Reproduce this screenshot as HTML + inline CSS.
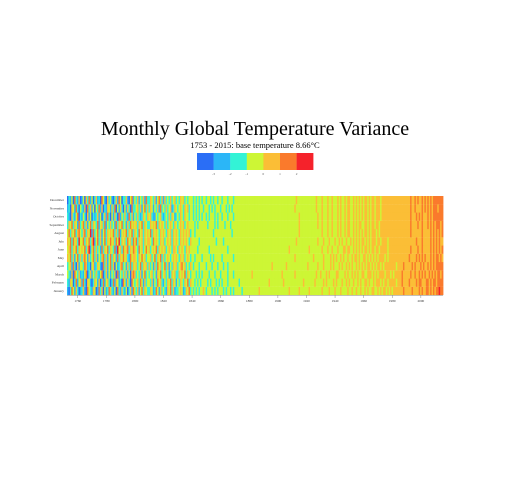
<!DOCTYPE html>
<html><head><meta charset="utf-8"><style>
body{margin:0;background:#fff;width:511px;height:488px;overflow:hidden;font-family:"Liberation Serif",serif}
</style></head><body>
<svg id="chart" width="511" height="488" xmlns="http://www.w3.org/2000/svg">
<text x="255" y="135" text-anchor="middle" font-size="20" font-family="Liberation Serif, serif">Monthly Global Temperature Variance</text>
<text x="255" y="148" text-anchor="middle" font-size="8.5" font-family="Liberation Serif, serif">1753 - 2015: base temperature 8.66°C</text>
<g id="legend"></g>
<g id="cells"></g>
<g id="yaxis"></g>
<g id="xaxis"></g>
</svg>
<script>
const months=["January","February","March","April","May","June","July","August","September","October","November","December"];
const legendLabels=["-3","-2","-1","0","1","2"];
const xTicks=[1760,1780,1800,1820,1840,1860,1880,1900,1920,1940,1960,1980,2000];
const startYear=1753;
const yearCount=263;
// level index per year (0=coldest .. 6=warmest), one string per month
const rowJan=["1025314201","2410532143","0152403125","4213052142","1302415","3241352432","2431253142","3214352412","2343124352","3232323343","2333232323","3323233232","3333323333","3333333433","3333333333","3333333343","3333343333","3343333333","3433334333","4333433334","3343343343","3434334433","4343443434","3444444454","4444544445","4544554545","455655"].join("");
const rowFeb=["2143025134","1520431024","3140251342","0251431205","3142053","2342531423","3241325342","1324352431","3243243524","3323232333","3232333232","3233323333","3332333333","3333333333","3333433333","3333433333","3333333343","3333334333","3343433334","3433343343","4334334343","3443433434","4434344344","4443444544","4454444545","5444554545","545555"].join("");
const rowMar=["3214053241","2135024132","4213502413","1324051324","2413045","4232413523","2342314352","3423124342","2434352432","3332323233","3323332333","2333323332","3333333333","3343333333","3333333333","3334333333","3343333333","3333333433","4333434333","3443333434","3343434334","4334443434","3444434443","4344444544","4445445445","4545445454","545545"].join("");
const rowApr=["2341520413","3254120341","2431052413","5240312452","3142524","3423524342","4231425342","3524132434","2345342324","3233323333","2333233323","3323323333","3333333333","3333333333","3333334333","3333334333","3333333333","3433333343","3343333434","3334343343","4343343434","3434434343","4434344444","4443444454","4444545444","5454454545","455555"].join("");
const rowMay=["4352413524","2453142352","4132452413","5243152435","3421534","4324353423","3423524352","4234323434","3243423432","3323333233","3332323333","3233333332","3333333333","3333333333","3333333333","3333333333","3343333333","3333343333","3343333434","3433434334","3343443433","4434343434","3444434344","4444444444","4454444545","4545444545","455454"].join("");
const rowJun=["3452435243","4352461352","4231524352","4325163425","3452435","4325342353","4234352434","3423432443","2434324343","3333233333","3323333333","3333323333","3333333333","3333333333","3333333333","3333333343","3333333333","3343333333","3433343343","3343334434","4334343434","3443434434","4344444344","4444444444","4445444454","4544444545","454545"].join("");
const rowJul=["4352534263","3524352461","3524135243","5342536243","4253425","3524342434","4325343243","4234342434","3243434324","3333323333","3333333233","3323333333","3333333333","3333333333","3333333333","3333333333","3334333333","3333333343","3343334333","4334343343","3434343434","4343434443","4434444344","4444444444","4444444544","4544444545","454544"].join("");
const rowAug=["3524352453","2452436152","3524135243","4352425134","3524352","4325342434","3524343243","4324342434","3243434342","3323333333","3333323333","3333333323","3333333333","3333333333","3333333333","3333333333","3333343333","3333333333","3433343343","3343433434","4334343434","3443434443","4344444444","4444444444","4445444444","4544444545","454545"].join("");
const rowSep=["2435243152","3524135243","2513425132","4231524352","3142534","3424352432","2434352434","3242343243","2343423433","3323233333","3233332323","3332333233","3333333333","3333333333","3333333333","3333333333","3333343333","3333333343","3433343343","3343433434","4334343443","3443434434","4344444444","4444444444","4445444454","4544454545","455545"].join("");
const rowOct=["2104213502","1320413021","2413024152","0314205132","4215241","3242124324","3421132342","1232424312","3243243323","3232323233","2323332323","3233323332","3333333333","3333333333","3333333333","3333333333","3333343333","3333333343","3433343343","3343433434","4334343434","3443434434","4434444444","4444444444","4445444545","4544454545","555555"].join("");
const rowNov=["1204315203","2140524130","3251402143","1425031420","3142052","2342413524","2431324152","3242341243","2343243423","3232323323","3323232333","2333232323","3333333333","3333333333","3333333333","3333333333","3343333333","3333333433","3433343343","3343433434","4334343434","3443434434","4434444444","4444444444","4445445444","4545454545","554555"].join("");
const rowDec=["0213052140","1304251302","4120531042","3102415302","2410351","3241324152","2432413524","1423242342","3243423233","3232323233","2332323323","3233323332","3333333333","3333333333","3333333333","3333333333","3334333333","3333333433","3433343343","3343433434","4334343434","3443434434","4434444444","4444444444","4445445454","4545454545","555555"].join("");
const rows=[rowJan,rowFeb,rowMar,rowApr,rowMay,rowJun,rowJul,rowAug,rowSep,rowOct,rowNov,rowDec];
const palette=["#2a6ef6","#2bb6f7","#33f3d6","#cdf635","#fbbe36","#fa7a2c","#f5222b"];

const NS="http://www.w3.org/2000/svg";
const X0=67,X1=443,Y0=196,Y1=295;
const cw=(X1-X0)/yearCount, rh=(Y1-Y0)/12;
function xScale(year){return X0+(year-startYear)*cw;}
function yScale(m){return Y1-(m+1)*rh;}
function mk(t,a){const e=document.createElementNS(NS,t);for(const k in a)e.setAttribute(k,a[k]);return e;}

const cells=document.getElementById('cells');
rows.forEach((row,m)=>{
  for(let i=0;i<yearCount&&i<row.length;i++){
    const r=mk('rect',{x:xScale(startYear+i),y:yScale(m),width:cw+0.4,height:rh+0.1,fill:palette[+row[i]]});
    
    
    cells.appendChild(r);
  }
});
const ya=document.getElementById('yaxis');
months.forEach((mn,m)=>{
  const t=mk('text',{x:X0-3,y:yScale(m)+rh/2+1,'text-anchor':'end','font-size':3.4,fill:'#333'});
  t.textContent=mn;
  
  
  ya.appendChild(t);
});
const xa=document.getElementById('xaxis');
xa.appendChild(mk('line',{x1:X0,x2:X1,y1:Y1+0.5,y2:Y1+0.5,stroke:'#888','stroke-width':0.5}));
xTicks.forEach(y=>{
  const x=xScale(y)+cw/2;
  xa.appendChild(mk('line',{x1:x,x2:x,y1:Y1,y2:Y1+3,stroke:'#888','stroke-width':0.5}));
  const t=mk('text',{x:x,y:Y1+7,'text-anchor':'middle','font-size':3.4,fill:'#333'});
  t.textContent=y;
  
  
  xa.appendChild(t);
});
const lg=document.getElementById('legend');
const LX=197,LW=16.6,LY=153,LH=17;
palette.forEach((c,i)=>{
  const r=mk('rect',{x:LX+i*LW,y:LY,width:LW+0.2,height:LH,fill:c});
  
  
  lg.appendChild(r);
});
legendLabels.forEach((l,i)=>{
  const t=mk('text',{x:LX+(i+1)*LW,y:LY+LH+5,'text-anchor':'middle','font-size':3.4,fill:'#555'});
  t.textContent=l;
  
  
  lg.appendChild(t);
});
</script>
</body></html>
